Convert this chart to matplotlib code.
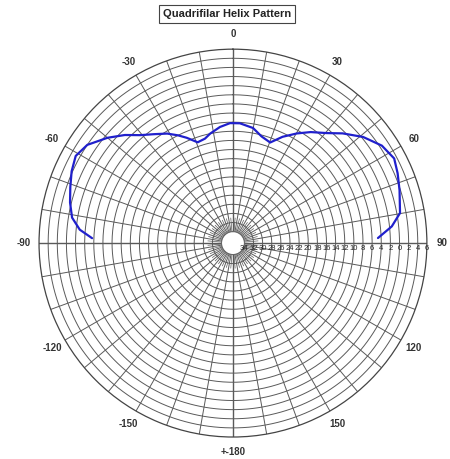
import numpy as np
import matplotlib
matplotlib.use("Agg")
import matplotlib.pyplot as plt

# ---- data ----
angles_deg = [-88, -85, -81, -76, -71, -66, -61, -56, -50, -45, -40.7, -36, -31, -27,
              -23.7, -19.3, -15, -11.8, -6.4, -1.4, 3.3, 9.9, 15, 20.3, 25, 30.2, 35,
              40.5, 45, 50.8, 56.8, 62.3, 67, 72.4, 79.8, 84, 88]
gain_db = [-5.6, -2.8, -0.8, 0.3, 1.2, 2.2, 2.9, 2.0, -0.6, -3.0, -5.3, -7.0, -8.5, -10.0,
           -11.3, -13.1, -12.8, -12.0, -10.9, -10.2, -10.2, -10.9, -12.3, -13.0, -10.8, -8.7, -6.8,
           -4.8, -2.5, 0.3, 2.5, 3.4, 2.7, 1.8, 0.7, -1.5, -4.7]
ring_values = list(range(-34, 7, 2))
ring_labels = [str(abs(v)) for v in ring_values]
angle_label_vals = [0, 30, 60, 90, 120, 150, 180, -150, -120, -90, -60, -30]
angle_label_text = ["0", "30", "60", "90", "120", "150", "+-180", "-150", "-120", "-90", "-60", "-30"]
title = "Quadrifilar Helix Pattern"

plt.rcParams['font.family'] = ['Liberation Sans', 'DejaVu Sans']

fig = plt.figure(figsize=(4.5, 4.59), dpi=100)
ax = fig.add_axes([0.0867, 0.0479, 0.862, 0.845], projection='polar')
ax.set_theta_zero_location('N')
ax.set_theta_direction(-1)
rmin, rmax = -34, 6
ax.set_ylim(rmin, rmax)
ax.set_rorigin(-36.5)
ax.grid(False)
ax.set_xticks([])
ax.set_yticks([])
ax.spines['polar'].set_color('#444444')
ax.spines['polar'].set_linewidth(0.9)
ax.spines['inner'].set_color('#666666')
ax.spines['inner'].set_linewidth(0.7)

gc = '#5a5a5a'
th_full = np.linspace(0, 2 * np.pi, 400)
for v in ring_values[:-1]:
    ax.plot(th_full, np.full_like(th_full, v), color=gc, lw=0.7, zorder=1)
for a in range(0, 360, 10):
    lw = 1.0 if a % 90 == 0 else 0.7
    ax.plot([np.radians(a)] * 2, [rmin, rmax], color=gc, lw=lw, zorder=1)
for a in range(5, 360, 10):
    ax.plot([np.radians(a)] * 2, [rmin, -31], color=gc, lw=0.5, zorder=1)

ax.plot(np.radians(angles_deg), gain_db, color='#2020cc', lw=1.6, zorder=3,
        solid_joinstyle='round', solid_capstyle='round')

# radial labels along 90 deg axis, just below the axis line
for v, lab in zip(ring_values, ring_labels):
    ax.annotate(lab, xy=(np.pi / 2, v), xytext=(0, -1.5), textcoords='offset points',
                fontsize=5.5, ha='center', va='top', color='#222222', zorder=4,
                annotation_clip=False)

for v, lab in zip(angle_label_vals, angle_label_text):
    ax.text(np.radians(v), 9.3, lab, fontsize=7, fontweight='bold', ha='center',
            va='center', color='#333333', clip_on=False)

fig.text(0.505, 0.97, title, fontsize=8, fontweight='bold', ha='center', va='center',
         color='#222222',
         bbox=dict(boxstyle='square,pad=0.35', facecolor='white', edgecolor='#444444', lw=0.8))

fig.savefig('out.png', dpi=100)
